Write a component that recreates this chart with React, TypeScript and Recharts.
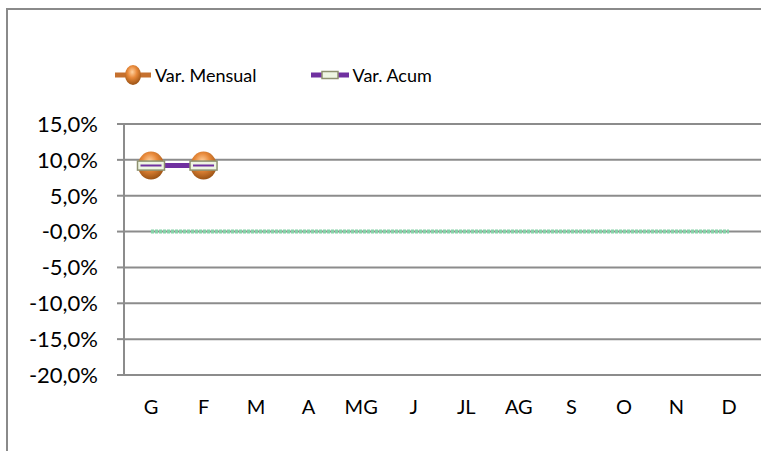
import { LineChart, Line, XAxis, YAxis, CartesianGrid, Legend } from "recharts";

const months = ["G", "F", "M", "A", "MG", "J", "JL", "AG", "S", "O", "N", "D"];
const varMensual = [9.2, 9.2, null, null, null, null, null, null, null, null, null, null];
const varAcum = [9.2, 9.2, null, null, null, null, null, null, null, null, null, null];
const zeroLine = [0, 0, 0, 0, 0, 0, 0, 0, 0, 0, 0, 0];
const yTicks = [-20, -15, -10, -5, 0, 5, 10, 15];

const data = months.map((m, i) => ({
  m,
  mensual: varMensual[i],
  acum: varAcum[i],
  zero: zeroLine[i],
}));

const fmt = (v: number) => (v === 0 ? "-0,0%" : v.toFixed(1).replace(".", ",") + "%");

function Sphere({ cx, cy, index, rx = 13, ry = 14 }: any) {
  if (cx == null || cy == null) return null;
  const id = `sph-${index}-${rx}`;
  return (
    <g key={id}>
      <defs>
        <radialGradient id={id} cx="45%" cy="35%" r="65%">
          <stop offset="0%" stopColor="#ffd2a0" />
          <stop offset="45%" stopColor="#e8893a" />
          <stop offset="100%" stopColor="#9a5214" />
        </radialGradient>
      </defs>
      <ellipse cx={cx} cy={cy} rx={rx} ry={ry} fill={`url(#${id})`} />
    </g>
  );
}

function Bar({ cx, cy, index, w = 27, h = 9 }: any) {
  if (cx == null || cy == null) return null;
  return (
    <g key={`bar-${index}-${w}`}>
      <rect x={cx - w / 2} y={cy - h / 2} width={w} height={h} fill="#eef5e2" stroke="#8e9170" strokeWidth={1.5} />
      {w > 20 && <line x1={cx - w / 2 + 3} x2={cx + w / 2 - 3} y1={cy} y2={cy} stroke="#7030a0" strokeWidth={2} />}
    </g>
  );
}

function LegendBox() {
  const text = { fontSize: 18, color: "#000", fontFamily: "Lato, sans-serif" };
  return (
    <div style={{ display: "flex", alignItems: "center", paddingLeft: 115 }}>
      <svg width={36} height={24}>
        <line x1={0} x2={36} y1={12} y2={12} stroke="#c5702e" strokeWidth={5} />
        <Sphere cx={18} cy={12} index={99} rx={8} ry={10} />
      </svg>
      <span style={{ ...text, marginLeft: 4 }}>Var. Mensual</span>
      <svg width={38} height={24} style={{ marginLeft: 54 }}>
        <line x1={0} x2={38} y1={12} y2={12} stroke="#7030a0" strokeWidth={5} />
        <Bar cx={19} cy={12} index={99} w={16} h={7} />
      </svg>
      <span style={{ ...text, marginLeft: 4 }}>Var. Acum</span>
    </div>
  );
}

export default function App() {
  return (
    <div style={{ position: "fixed", left: 0, top: 0, width: 761, height: 451, overflow: "hidden", background: "#fff", fontFamily: "Lato, sans-serif" }}>
      <div style={{ position: "absolute", left: 0, top: 0 }}>
        <LineChart width={761} height={451} data={data} margin={{ top: 100, right: 0, bottom: 36, left: 0 }}>
          <CartesianGrid vertical={false} stroke="#8c8c8c" strokeWidth={2} />
          <XAxis
            dataKey="m"
            padding={{ left: 27, right: 32 }}
            axisLine={false}
            tickLine={false}
            tickSize={0}
            tickMargin={25}
            height={40}
            tick={{ fill: "#000", fontSize: 20 }}
            interval={0}
          />
          <YAxis
            domain={[-20, 15]}
            ticks={yTicks}
            tickFormatter={fmt}
            width={124}
            axisLine={{ stroke: "#8c8c8c", strokeWidth: 2 }}
            tickLine={{ stroke: "#8c8c8c", strokeWidth: 2 }}
            tickSize={7}
            tickMargin={19}
            tick={{ fill: "#000", fontSize: 22 }}
            allowDataOverflow
          />
          <Legend verticalAlign="top" content={() => <LegendBox />} wrapperStyle={{ top: 63, left: 0, width: 761 }} />
          <Line
            dataKey="zero"
            stroke="#86d2a8"
            strokeWidth={4}
            strokeDasharray="3 1"
            dot={false}
            legendType="none"
            isAnimationActive={false}
          />
          <Line
            dataKey="mensual"
            name="Var. Mensual"
            stroke="#c5702e"
            strokeWidth={5}
            dot={(p: any) => <Sphere {...p} />}
            activeDot={false}
            isAnimationActive={false}
          />
          <Line
            dataKey="acum"
            name="Var. Acum"
            stroke="#7030a0"
            strokeWidth={5}
            dot={(p: any) => <Bar {...p} />}
            activeDot={false}
            isAnimationActive={false}
          />
        </LineChart>
      </div>
      <div
        style={{
          position: "absolute",
          left: 6,
          top: 8,
          width: 900,
          height: 600,
          borderTop: "2px solid #8a8a8a",
          borderLeft: "2px solid #8a8a8a",
          zIndex: 5,
          pointerEvents: "none",
        }}
      />
    </div>
  );
}
